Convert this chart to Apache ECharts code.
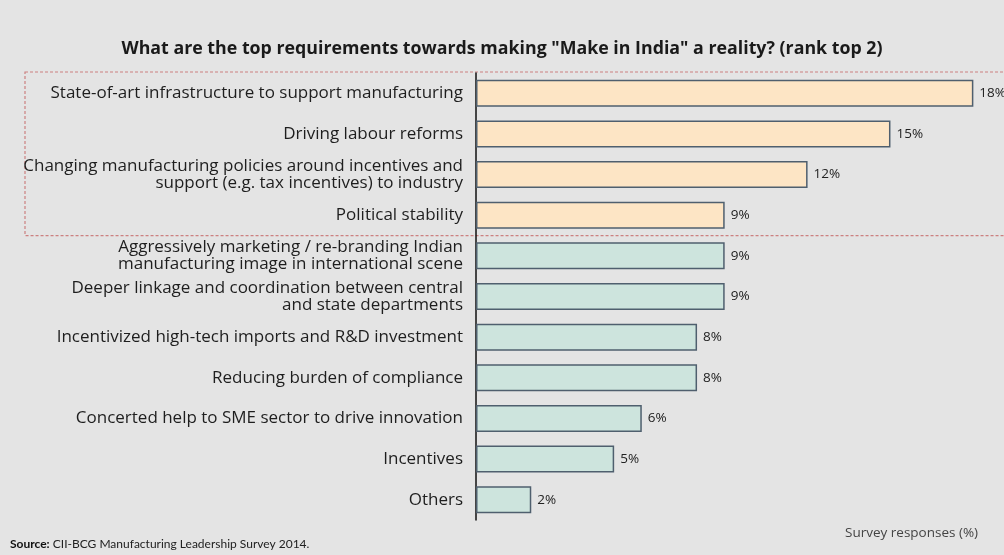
<!DOCTYPE html>
<html>
<head>
<meta charset="utf-8">
<title>Make in India – top requirements</title>
<script src="https://cdn.jsdelivr.net/npm/echarts@6/dist/echarts.min.js"></script>
<style>
  html, body { margin: 0; padding: 0; background: #e4e4e4; }
  #chart { width: 1004px; height: 555px; }
</style>
</head>
<body>
<div id="chart"></div>
<script>
// Requirements, ranked top to bottom
const categories = [
  'State-of-art infrastructure to support manufacturing',
  'Driving labour reforms',
  'Changing manufacturing policies around incentives and\nsupport (e.g. tax incentives) to industry',
  'Political stability',
  'Aggressively marketing / re-branding Indian\nmanufacturing image in international scene',
  'Deeper linkage and coordination between central\nand state departments',
  'Incentivized high-tech imports and R&D investment',
  'Reducing burden of compliance',
  'Concerted help to SME sector to drive innovation',
  'Incentives',
  'Others'
];

// Share of survey responses (%)
const responses = [18, 15, 12, 9, 9, 9, 8, 8, 6, 5, 2];

// The first four requirements are highlighted
const highlightedCount = 4;

const LABEL_FONT = '"Open Sans", Lato, sans-serif';
const NOTE_FONT = 'Lato, "Open Sans", sans-serif';
const orangeFill = '#fde5c5';
const greenFill = '#cde4dd';
const barBorder = '#4f5f6e';

const chart = echarts.init(document.getElementById('chart'), null, { renderer: 'canvas' });

const option = {
  backgroundColor: '#e4e4e4',
  animation: false,
  textStyle: { fontFamily: LABEL_FONT },
  title: {
    text: 'What are the top requirements towards making "Make in India" a reality? (rank top 2)',
    left: 'center',
    top: 35,
    textStyle: { fontFamily: LABEL_FONT, fontSize: 17.8, fontWeight: 'bold', color: '#1a1a1a' }
  },
  grid: { left: 476, right: 3, top: 73, bottom: 35, containLabel: false },
  xAxis: {
    type: 'value',
    min: 0,
    max: 19,
    show: false
  },
  yAxis: {
    type: 'category',
    data: categories,
    inverse: true,
    axisLine: { show: true, lineStyle: { color: '#111', width: 1.5 } },
    axisTick: { show: false },
    axisLabel: {
      margin: 13,
      fontFamily: LABEL_FONT,
      fontSize: 17,
      lineHeight: 17,
      color: '#1e1e1e',
      align: 'right'
    }
  },
  series: [{
    type: 'bar',
    data: responses.map((v, i) => ({
      value: v,
      itemStyle: { color: i < highlightedCount ? orangeFill : greenFill }
    })),
    barWidth: 27,
    itemStyle: { borderColor: barBorder, borderWidth: 1.5 },
    label: {
      show: true,
      position: 'right',
      distance: 6,
      formatter: '{c}%',
      fontFamily: LABEL_FONT,
      fontSize: 13.5,
      color: '#222'
    }
  }]
};

chart.setOption(option);

// Dashed frame around the highlighted group, placed from the category axis
const firstCenter = chart.convertToPixel({ yAxisIndex: 0 }, 0);
const secondCenter = chart.convertToPixel({ yAxisIndex: 0 }, 1);
const step = secondCenter - firstCenter;
const frameTop = firstCenter - step / 2 - 1;
const frameBottom = chart.convertToPixel({ yAxisIndex: 0 }, highlightedCount - 1) + step / 2;

chart.setOption({
  graphic: [
    {
      type: 'rect',
      shape: { x: 25, y: frameTop, width: 1000, height: frameBottom - frameTop },
      style: { fill: 'none', stroke: '#cc8080', lineWidth: 1.2, lineDash: [3, 2] },
      z: 0
    },
    {
      type: 'text',
      left: 845,
      top: 526,
      style: { text: 'Survey responses (%)', font: '13.5px ' + LABEL_FONT, fill: '#444' }
    },
    {
      type: 'text',
      left: 10,
      top: 538,
      style: {
        text: '{b|Source:} CII-BCG Manufacturing Leadership Survey 2014.',
        font: '12px ' + NOTE_FONT,
        fill: '#222',
        rich: { b: { fontWeight: 'bold', fontSize: 12, fontFamily: NOTE_FONT, fill: '#111' } }
      }
    }
  ]
});
</script>
</body>
</html>
